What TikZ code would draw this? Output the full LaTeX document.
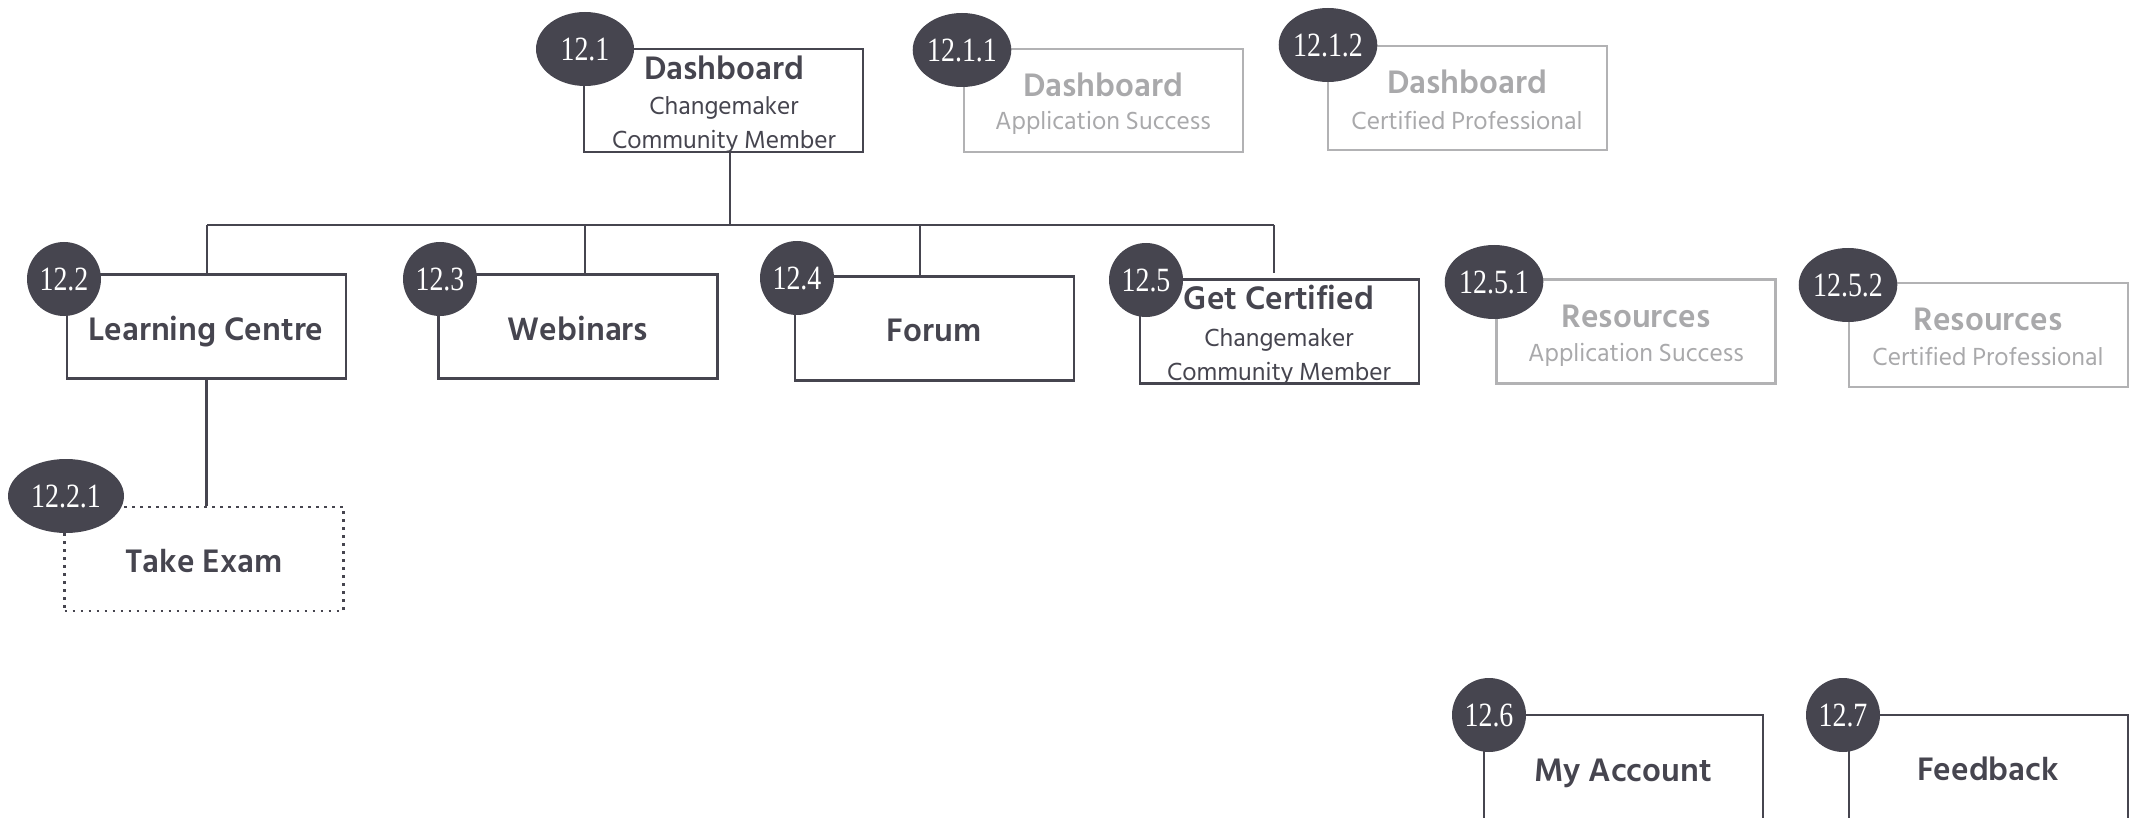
\documentclass[tikz,border=0pt]{standalone}
\usepackage{fontspec}
\setmainfont{Hind Siliguri}
\newfontfamily\numfont[FakeStretch=0.82]{Liberation Serif}
\usetikzlibrary{shapes.geometric}
\definecolor{ink}{HTML}{46454F}
\definecolor{pale}{HTML}{A9A9AB}
\definecolor{paleline}{HTML}{B2B2B4}
\begin{document}
\begin{tikzpicture}[x=0.5pt,y=-0.5pt,
  box/.style={draw=ink, line width=1.4pt, rectangle, inner sep=0pt, minimum width=139.5pt, minimum height=52pt},
  palebox/.style={box, draw=paleline},
  dotbox/.style={box, dash pattern=on 1.4pt off 2.6pt},
  badge/.style={ellipse, fill=ink, inner sep=0pt, text=white, font=\numfont\fontsize{17}{17}\selectfont, minimum width=37pt, minimum height=37pt},
  widebadge/.style={badge, minimum width=49pt},
  ttl/.style={text=ink, font=\bfseries\fontsize{16.7}{18}\selectfont, inner sep=0pt},
  sub/.style={text=ink, font=\fontsize{12.7}{14}\selectfont, inner sep=0pt},
  pttl/.style={ttl, text=pale},
  psub/.style={sub, text=pale},
  link/.style={draw=ink, line width=1.4pt}
]
\useasboundingbox (0,0) rectangle (2135,818);
% boxes
\node[box, minimum height=51.5pt] (d121) at (723.5,100.5) {};
\node[palebox, minimum height=51.5pt] (d1211) at (1103.5,100.5) {};
\node[palebox, minimum height=52pt] (d1212) at (1467.5,98) {};
\node[box] (lc) at (206.5,326.5) {};
\node[box] (web) at (578,326.5) {};
\node[box] (forum) at (934.5,328.5) {};
\node[box] (gc) at (1279.5,331.5) {};
\node[palebox] (r1) at (1636,331.5) {};
\node[palebox] (r2) at (1988.5,335) {};
\node[dotbox] (exam) at (204,559) {};
\node[box] (acc) at (1623.5,767) {};
\node[box] (fb) at (1988.5,767) {};
% connectors
\coordinate (bus) at (730,225);
\coordinate (bl) at (207,225);
\coordinate (b3) at (585,225);
\coordinate (b4) at (920,225);
\coordinate (br) at (1274,225);
\coordinate (gctop) at (1274,273);
\draw[link] (bus |- d121.south) -- (bus);
\draw[link] (bl) -- (br);
\draw[link] (bl) -- (bl |- lc.north);
\draw[link] (b3) -- (b3 |- web.north);
\draw[link] (b4) -- (b4 |- forum.north);
\draw[link] (br) -- (gctop);
\draw[link] (lc.south) -- (exam.north -| lc.south);
% texts
\node[ttl] (t121) at (724,68) {Dashboard};
\node[sub] (s121a) at (724,108) {Changemaker};
\node[sub] (s121b) at (724,142) {Community Member};
\node[pttl] (t1211) at (1103,85) {Dashboard};
\node[psub] (s1211) at (1103,123) {Application Success};
\node[pttl] (t1212) at (1467,82) {Dashboard};
\node[psub] (s1212) at (1467,120) {Certified Professional};
\node[ttl] (tlc) at (206,332) {Learning Centre};
\node[ttl] (tweb) at (578,328) {Webinars};
\node[ttl] (tforum) at (934,330) {Forum};
\node[ttl] (tgc) at (1279,297) {Get Certified};
\node[sub] (sgca) at (1279,340) {Changemaker};
\node[sub] (sgcb) at (1279,374) {Community Member};
\node[pttl] (tr1) at (1636,316) {Resources};
\node[psub] (sr1) at (1636,355) {Application Success};
\node[pttl] (tr2) at (1988,319) {Resources};
\node[psub] (sr2) at (1988,356) {Certified Professional};
\node[ttl] (texam) at (204,561) {Take Exam};
\node[ttl] (tacc) at (1623,773) {My Account};
\node[ttl] (tfb) at (1988,769) {Feedback};
% badges
\node[widebadge] (n121) at (585,49) {12.1};
\node[widebadge] (n1211) at (962,50) {12.1.1};
\node[widebadge] (n1212) at (1328,45) {12.1.2};
\node[badge] (n122) at (64,279) {12.2};
\node[badge] (n123) at (440,279) {12.3};
\node[badge] (n124) at (797,278) {12.4};
\node[badge] (n125) at (1146,280) {12.5};
\node[widebadge] (n1251) at (1494,282) {12.5.1};
\node[widebadge] (n1252) at (1848,285) {12.5.2};
\node[widebadge, minimum width=58pt] (n1221) at (66,496) {12.2.1};
\node[badge] (n126) at (1489,715) {12.6};
\node[badge] (n127) at (1843,715) {12.7};
\end{tikzpicture}
\end{document}
